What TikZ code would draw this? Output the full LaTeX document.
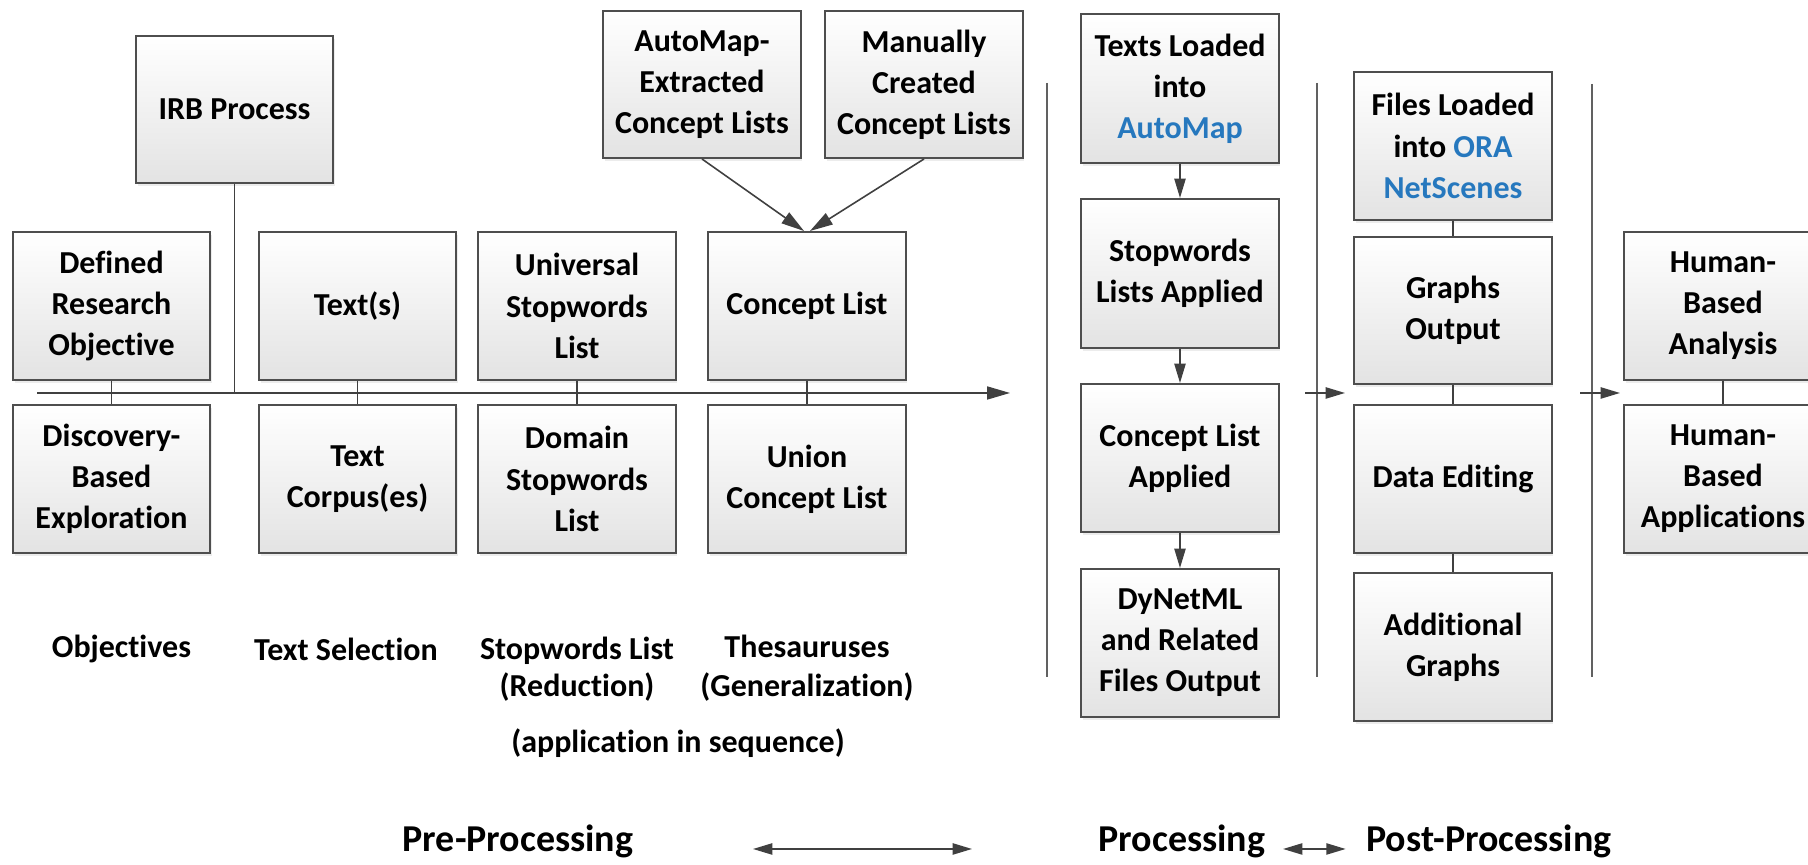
\documentclass[tikz,border=0pt]{standalone}
\usepackage{fontspec}
\setmainfont{Carlito}[RawFeature={-liga}]
\usetikzlibrary{arrows.meta,shadows,calc}
\definecolor{linec}{RGB}{64,64,64}
\definecolor{boxline}{RGB}{78,78,78}
\definecolor{oblue}{RGB}{38,120,190}
\begin{document}
\begin{tikzpicture}[x=0.01cm,y=-0.01cm,
  box/.style={draw=boxline, line width=0.55pt, top color=white, bottom color=black!11,
    minimum width=1.97cm, minimum height=1.48cm, inner sep=0pt, align=center,
    font=\fontsize{9.1}{11.7}\selectfont\bfseries,
    drop shadow={opacity=0.15, shadow xshift=0.5pt, shadow yshift=-0.9pt}},
  conn/.style={draw=linec, line width=0.45pt},
  arr/.style={conn, -{Triangle[length=5.5pt,width=3.2pt]}},
  bigarr/.style={conn, -{Triangle[length=6.5pt,width=3.7pt]}},
  dblarr/.style={conn, {Triangle[length=5.5pt,width=3.2pt]}-{Triangle[length=5.5pt,width=3.2pt]}},
  lab/.style={anchor=base, font=\fontsize{9.1}{11.1}\selectfont\bfseries, inner sep=0pt},
  big/.style={anchor=base, font=\fontsize{10.8}{13}\selectfont\bfseries, inner sep=0pt},
  sepline/.style={draw=black!62, line width=0.45pt}]
\fill[white] (0,0) rectangle (1808,865);
\useasboundingbox (0,0) rectangle (1808,865);
\clip (0,0) rectangle (1808,865);

% ---------- Pre-processing ----------
\node[box, minimum height=1.47cm] (irb) at (234.5,109.5) {IRB Process};
\node[box, minimum height=1.47cm] (ame) at (702,84.5) {AutoMap-\\Extracted\\Concept Lists};
\node[box, minimum height=1.47cm] (mcc) at (924,84.5) {Manually\\Created\\Concept Lists};

\node[box] (def) at (111.5,306) {Defined\\Research\\Objective};
\node[box] (txt) at (357.5,306) {Text(s)};
\node[box] (usw) at (577,306) {Universal\\Stopwords\\List};
\node[box] (cl)  at (807,306) {Concept List};

\node[box] (dis) at (111.5,479) {Discovery-\\Based\\Exploration};
\node[box] (cor) at (357.5,479) {Text\\Corpus(es)};
\node[box] (dsw) at (577,479) {Domain\\Stopwords\\List};
\node[box] (ucl) at (807,479) {Union\\Concept List};

\coordinate (mlA) at (37,393);
\coordinate (mlB) at (1010,393);
\draw[bigarr] (mlA) -- (mlB);
\draw[conn] (irb.south) -- (irb.south |- mlA);
\draw[conn] (def.south) -- (dis.north);
\draw[conn] (txt.south) -- (cor.north);
\draw[conn] (usw.south) -- (dsw.north);
\draw[conn] (cl.south) -- (ucl.north);
\draw[bigarr] (ame.south) -- ($(cl.north)+(-3,0)$);
\draw[bigarr] (mcc.south) -- ($(cl.north)+(3,0)$);

\node[lab] (l1) at (121.5,658) {Objectives};
\node[lab] (l2) at (346,661) {Text Selection};
\node[lab] (l3a) at (577,660) {Stopwords List};
\node[lab] (l3b) at (577,697) {(Reduction)};
\node[lab] (l4a) at (807,658) {Thesauruses};
\node[lab] (l4b) at (807,697) {(Generalization)};
\node[lab] (l5) at (678,753) {(application in sequence)};

% ---------- separators ----------
\coordinate (s1t) at (1047,83);  \coordinate (s1b) at (1047,677);
\coordinate (s2t) at (1317,83);  \coordinate (s2b) at (1317,677);
\coordinate (s3t) at (1592,84);  \coordinate (s3b) at (1592,677);
\draw[sepline] (s1t) -- (s1b);
\draw[sepline] (s2t) -- (s2b);
\draw[sepline] (s3t) -- (s3b);

% ---------- Processing ----------
\node[box, minimum height=1.49cm] (tla) at (1180,88.5) {Texts Loaded\\into\\\textcolor{oblue}{AutoMap}};
\node[box, minimum height=1.49cm] (swa) at (1180,273.5) {Stopwords\\Lists Applied};
\node[box] (cla) at (1180,458) {Concept List\\Applied};
\node[box] (dyn) at (1180,643) {DyNetML\\and Related\\Files Output};
\draw[arr] (tla.south) -- (swa.north);
\draw[arr] (swa.south) -- (cla.north);
\draw[arr] (cla.south) -- (dyn.north);

% ---------- Post-processing ----------
\node[box] (fla) at (1453,146) {Files Loaded\\into \textcolor{oblue}{ORA}\\\textcolor{oblue}{NetScenes}};
\node[box, minimum height=1.47cm] (gro) at (1453,310.5) {Graphs\\Output};
\node[box] (dat) at (1453,479) {Data Editing};
\node[box] (adg) at (1453,647) {Additional\\Graphs};
\draw[conn] (fla.south) -- (gro.north);
\draw[conn] (gro.south) -- (dat.north);
\draw[conn] (dat.south) -- (adg.north);

\node[box] (hba) at (1723,306) {Human-\\Based\\Analysis};
\node[box] (hbp) at (1723,479) {Human-\\Based\\Applications};
\draw[conn] (hba.south) -- (hbp.north);

\coordinate (a1s) at (1305,393); \coordinate (a1e) at (1345,393);
\coordinate (a2s) at (1580,393); \coordinate (a2e) at (1620,393);
\draw[arr] (a1s) -- (a1e);
\draw[arr] (a2s) -- (a2e);

% ---------- bottom titles ----------
\node[big] (pre) at (518,852) {Pre-Processing};
\node[big] (pro) at (1182,852) {Processing};
\node[big] (post) at (1489,852) {Post-Processing};
\coordinate (d1s) at (753,849); \coordinate (d1e) at (972,849);
\draw[dblarr] (d1s) -- (d1e);
\draw[dblarr] (pro.east |- d1s) ++(17,0) coordinate (d2s) -- ($(post.west |- d1s)+(-20,0)$);
\end{tikzpicture}
\end{document}
